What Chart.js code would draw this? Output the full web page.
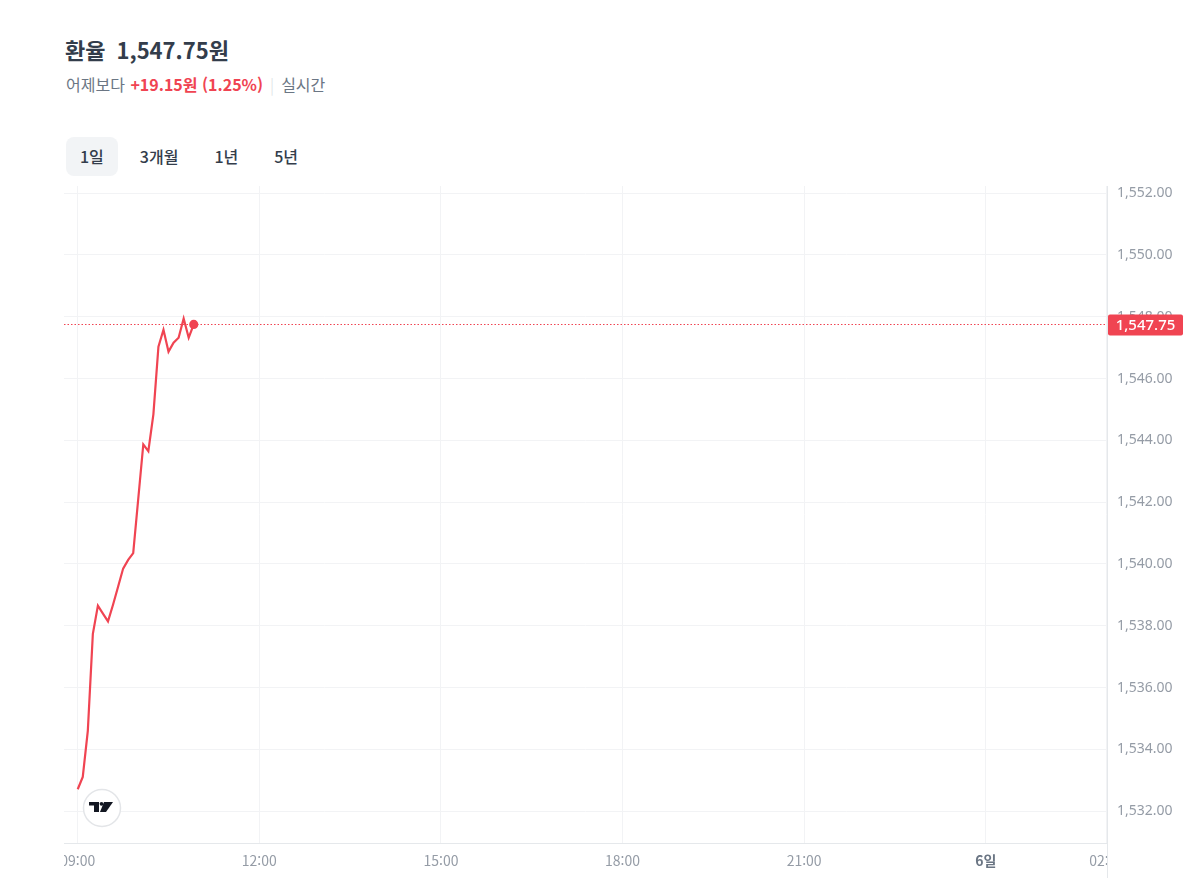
<!DOCTYPE html>
<html lang="ko">
<head>
<meta charset="utf-8">
<script src="https://cdn.jsdelivr.net/npm/chart.js@4"></script>
<style>
  body { margin: 0; background: #fff; font-family: "Noto Sans CJK KR", "Noto Sans", sans-serif; color: #333d4b; }
  .title { position: absolute; left: 65px; top: 33px; font-size: 22px; font-weight: 700; line-height: 32px; }
  .title .price { margin-left: 11px; }
  .sub { position: absolute; left: 66px; top: 71px; font-size: 16px; line-height: 26px; color: #6b7684; }
  .sub .chg { color: #f04452; font-weight: 700; margin-left: 1px; }
  .sub .bar { color: #d9dde2; margin: 0 7px 0 7px; font-weight: 300; }
  .tabs { position: absolute; left: 66px; top: 137px; display: flex; }
  .tab { height: 39px; line-height: 39px; font-size: 16px; font-weight: 500; padding: 0 14px; border-radius: 8px; margin-right: 8px; }
  .tab.on { background: #f2f4f6; }
  #wrap { position: absolute; left: 64px; top: 180px; width: 1136px; height: 716px; }
</style>
</head>
<body>
<div class="title">환율<span class="price">1,547.75원</span></div>
<div class="sub">어제보다 <span class="chg">+19.15원 (1.25%)</span><span class="bar">|</span>실시간</div>
<div class="tabs">
  <div class="tab on">1일</div><div class="tab">3개월</div><div class="tab">1년</div><div class="tab">5년</div>
</div>
<div id="wrap"><canvas id="c"></canvas></div>
<script>
// 5분 간격 환율 (원)
const times = ['09:00','09:05','09:10','09:15','09:20','09:25','09:30','09:35','09:40','09:45','09:50','09:55',
               '10:00','10:05','10:10','10:15','10:20','10:25','10:30','10:35','10:40','10:45','10:50','10:55'];
const rates = [1532.71, 1533.11, 1534.60, 1537.74, 1538.65, 1538.39, 1538.14, 1538.68, 1539.26, 1539.85, 1540.13, 1540.35,
               1542.11, 1543.87, 1543.65, 1544.84, 1547.03, 1547.58, 1546.87, 1547.16, 1547.32, 1547.94, 1547.32, 1547.75];
const lastRate = 1547.75;

// x축 눈금 (09:00 기준 분)
const xTicks = [0, 180, 360, 540, 720, 900, 1020];
const xTickLabels = ['09:00', '12:00', '15:00', '18:00', '21:00', '6일', '02:00'];
const yTicks = [1532, 1534, 1536, 1538, 1540, 1542, 1544, 1546, 1548, 1550, 1552];

const RED = '#f04452';

function toMin(t) {
  const p = t.split(':');
  return (+p[0] - 9) * 60 + (+p[1]);
}
const points = times.map((t, i) => ({ x: toMin(t), y: rates[i] }));

function noPad(s) {
  s.paddingLeft = 0; s.paddingRight = 0; s.paddingTop = 0; s.paddingBottom = 0;
}

const overlay = {
  id: 'overlay',
  afterDraw(chart) {
    const ctx = chart.ctx;
    const a = chart.chartArea;
    const xs = chart.scales.x, ys = chart.scales.y;

    // 오른쪽 축선 아래로 연장
    ctx.save();
    ctx.strokeStyle = '#e5e8eb';
    ctx.lineWidth = 1;
    ctx.beginPath();
    ctx.moveTo(a.right + 0.5, a.top);
    ctx.lineTo(a.right + 0.5, a.bottom + 35);
    ctx.stroke();

    // x축 라벨 (잘림 포함)
    ctx.beginPath();
    ctx.rect(0, a.bottom, a.right, 60);
    ctx.clip();
    ctx.textAlign = 'center';
    ctx.textBaseline = 'middle';
    xTicks.forEach((v, i) => {
      const bold = xTickLabels[i] === '6일';
      ctx.font = (bold ? '700 ' : '400 ') + '14px "Noto Sans CJK KR", "Noto Sans", sans-serif';
      ctx.fillStyle = bold ? '#6b7684' : '#959ca6';
      ctx.fillText(xTickLabels[i], xs.getPixelForValue(v), a.bottom + 18);
    });
    ctx.restore();

    // 현재가 점선 + 태그
    const py = ys.getPixelForValue(lastRate);
    ctx.save();
    ctx.strokeStyle = RED;
    ctx.lineWidth = 1;
    ctx.setLineDash([1.5, 2]);
    ctx.beginPath();
    ctx.moveTo(a.left, Math.round(py) + 0.5);
    ctx.lineTo(a.right, Math.round(py) + 0.5);
    ctx.stroke();
    ctx.setLineDash([]);
    ctx.fillStyle = RED;
    ctx.beginPath();
    ctx.roundRect(a.right + 1, py - 10, 75, 21, 2);
    ctx.fill();
    ctx.fillStyle = '#fff';
    ctx.font = '500 15px "Noto Sans", sans-serif';
    ctx.textAlign = 'center';
    ctx.textBaseline = 'middle';
    ctx.fillText(lastRate.toLocaleString('en-US', { minimumFractionDigits: 2 }), a.right + 38.5, py + 1);
    ctx.restore();

    // 트레이딩뷰 로고
    const cx = a.left + 38, cy = a.bottom - 35;
    ctx.save();
    ctx.fillStyle = '#fff';
    ctx.strokeStyle = '#e3e5e8';
    ctx.lineWidth = 1.5;
    ctx.beginPath();
    ctx.arc(cx, cy, 18.5, 0, Math.PI * 2);
    ctx.fill();
    ctx.stroke();
    ctx.fillStyle = '#131722';
    ctx.fillRect(cx - 13, cy - 6, 10, 3.5);
    ctx.fillRect(cx - 8, cy - 6, 5, 10);
    ctx.beginPath();
    ctx.arc(cx - 0.5, cy - 4.2, 1.9, 0, Math.PI * 2);
    ctx.fill();
    ctx.beginPath();
    ctx.moveTo(cx + 2, cy - 6);
    ctx.lineTo(cx + 11, cy - 6);
    ctx.lineTo(cx + 4, cy + 4);
    ctx.lineTo(cx - 2, cy + 4);
    ctx.closePath();
    ctx.fill();
    ctx.restore();
  }
};

new Chart(document.getElementById('c'), {
  type: 'line',
  data: {
    datasets: [{
      data: points,
      borderColor: RED,
      borderWidth: 2.2,
      backgroundColor: RED,
      tension: 0,
      pointRadius: ctx => ctx.dataIndex === points.length - 1 ? 3.5 : 0,
      pointHoverRadius: 0
    }]
  },
  options: {
    responsive: true,
    maintainAspectRatio: false,
    animation: false,
    layout: { autoPadding: false, padding: { top: 6, bottom: 53, left: 0, right: 0 } },
    plugins: { legend: { display: false }, tooltip: { enabled: false } },
    scales: {
      x: {
        type: 'linear',
        min: -13.6,
        max: 1020.2,
        afterBuildTicks: s => { s.ticks = xTicks.map(v => ({ value: v })); },
        afterFit: s => { s.height = 0; noPad(s); },
        ticks: { display: false },
        grid: { color: '#f2f3f5', drawTicks: false },
        border: { color: '#e5e8eb' }
      },
      y: {
        position: 'right',
        min: 1530.97,
        max: 1552.23,
        afterBuildTicks: s => { s.ticks = yTicks.map(v => ({ value: v })); },
        afterFit: s => { s.width = 93; noPad(s); },
        ticks: {
          padding: 10,
          color: '#959ca6',
          font: { size: 14, family: '"Noto Sans", sans-serif' },
          callback: v => v.toLocaleString('en-US', { minimumFractionDigits: 2, maximumFractionDigits: 2 })
        },
        grid: { color: '#f2f3f5', drawTicks: false },
        border: { display: false }
      }
    }
  },
  plugins: [overlay]
});
</script>
</body>
</html>
